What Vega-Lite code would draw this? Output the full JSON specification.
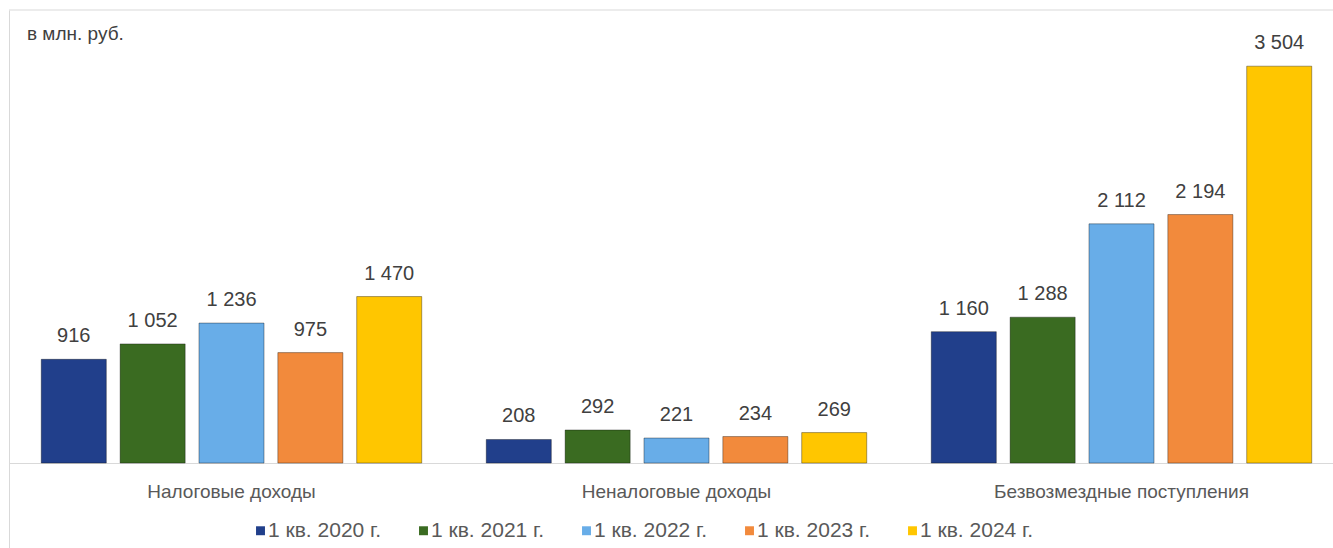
{
  "$schema": "https://vega.github.io/schema/vega-lite/v6.json",
  "width": 1324,
  "height": 538,
  "autosize": {"type": "none"},
  "padding": {"left": 9, "top": 10, "right": 0, "bottom": 0},
  "background": "white",
  "config": {
    "view": {"stroke": null},
    "font": "Liberation Sans, Arial, sans-serif",
    "locale": {"number": {"decimal": ",", "thousands": " ", "grouping": [3], "currency": ["", ""]}}
  },
  "title": {
    "text": "в млн. руб.",
    "anchor": "start",
    "frame": "group",
    "orient": "top",
    "offset": 0,
    "baseline": "top",
    "dx": 18,
    "dy": 34,
    "fontSize": 19,
    "fontWeight": "normal",
    "color": "#404040"
  },
  "data": {
    "values": [
      {"cat": "Налоговые доходы", "period": "1 кв. 2020 г.", "value": 916},
      {"cat": "Налоговые доходы", "period": "1 кв. 2021 г.", "value": 1052},
      {"cat": "Налоговые доходы", "period": "1 кв. 2022 г.", "value": 1236},
      {"cat": "Налоговые доходы", "period": "1 кв. 2023 г.", "value": 975},
      {"cat": "Налоговые доходы", "period": "1 кв. 2024 г.", "value": 1470},
      {"cat": "Неналоговые доходы", "period": "1 кв. 2020 г.", "value": 208},
      {"cat": "Неналоговые доходы", "period": "1 кв. 2021 г.", "value": 292},
      {"cat": "Неналоговые доходы", "period": "1 кв. 2022 г.", "value": 221},
      {"cat": "Неналоговые доходы", "period": "1 кв. 2023 г.", "value": 234},
      {"cat": "Неналоговые доходы", "period": "1 кв. 2024 г.", "value": 269},
      {"cat": "Безвозмездные поступления", "period": "1 кв. 2020 г.", "value": 1160},
      {"cat": "Безвозмездные поступления", "period": "1 кв. 2021 г.", "value": 1288},
      {"cat": "Безвозмездные поступления", "period": "1 кв. 2022 г.", "value": 2112},
      {"cat": "Безвозмездные поступления", "period": "1 кв. 2023 г.", "value": 2194},
      {"cat": "Безвозмездные поступления", "period": "1 кв. 2024 г.", "value": 3504}
    ]
  },
  "encoding": {
    "x": {
      "field": "cat",
      "type": "nominal",
      "sort": ["Налоговые доходы", "Неналоговые доходы", "Безвозмездные поступления"],
      "scale": {"range": [0, 1335], "paddingInner": 0, "paddingOuter": 0},
      "axis": {
        "title": null,
        "orient": "bottom",
        "offset": -85,
        "ticks": false,
        "domainColor": "#d9d9d9",
        "labelFontSize": 19,
        "labelLimit": 0,
        "labelColor": "#595959",
        "labelPadding": 19,
        "labelAngle": 0
      }
    },
    "xOffset": {
      "field": "period",
      "type": "nominal",
      "scale": {"paddingInner": 0.175, "paddingOuter": 0.409}
    },
    "y": {
      "field": "value",
      "type": "quantitative",
      "scale": {"domain": [-750, 4000], "nice": false, "zero": false},
      "axis": {"title": null, "labels": false, "ticks": false, "grid": false, "domainColor": "#d9d9d9"}
    }
  },
  "layer": [
    {
      "data": {"values": [{"top": 4000}]},
      "mark": {"type": "rule", "color": "#d9d9d9", "strokeWidth": 1},
      "encoding": {"x": null, "xOffset": null, "y": {"field": "top", "type": "quantitative"}}
    },
    {
      "mark": {"type": "bar", "strokeWidth": 1, "strokeOpacity": 0.35, "stroke": "#000000"},
      "encoding": {
        "y2": {"datum": 0},
        "color": {
          "field": "period",
          "type": "nominal",
          "scale": {
            "domain": ["1 кв. 2020 г.", "1 кв. 2021 г.", "1 кв. 2022 г.", "1 кв. 2023 г.", "1 кв. 2024 г."],
            "range": ["#213f8b", "#3a6b21", "#68ade8", "#f28a3c", "#ffc600"]
          },
          "legend": {
            "title": null,
            "orient": "none",
            "legendX": 241,
            "legendY": 510,
            "direction": "horizontal",
            "columns": 5,
            "symbolType": "square",
            "symbolSize": 80,
            "symbolStrokeWidth": 0,
            "labelFontSize": 21,
            "labelColor": "#595959",
            "labelOffset": -3,
            "columnPadding": 31
          }
        }
      }
    },
    {
      "mark": {"type": "text", "baseline": "alphabetic", "dy": -17, "fontSize": 20, "color": "#404040"},
      "encoding": {
        "text": {"field": "value", "type": "quantitative", "format": ","}
      }
    }
  ]
}
